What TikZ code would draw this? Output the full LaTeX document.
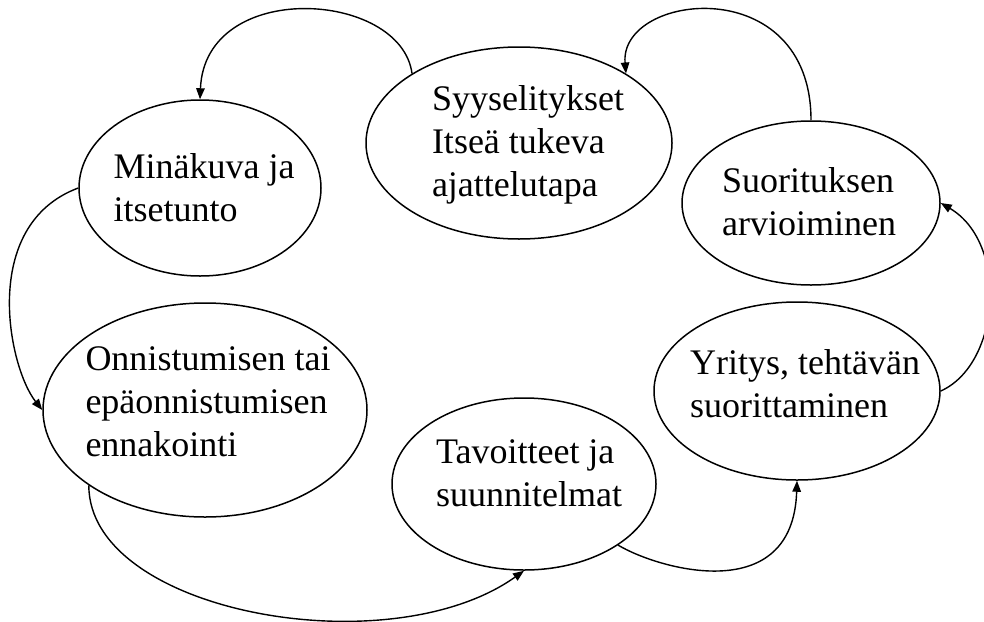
\documentclass[tikz,border=0pt]{standalone}
\usepackage{fontspec}
\setmainfont{Liberation Serif}
\usetikzlibrary{shapes.geometric,arrows.meta}
\begin{document}
\begin{tikzpicture}[x=1pt,y=-1pt,
  bubble/.style={draw, ellipse, line width=1.5pt, inner sep=0pt},
  txt/.style={align=left, inner sep=0pt, font=\fontsize{36}{43}\selectfont},
  conn/.style={line width=1.4pt, -{Triangle[length=11pt,width=8.5pt]}}]
\useasboundingbox (0,0) rectangle (984,621);
% ellipses
\node[bubble, minimum width=242pt, minimum height=176pt] (m) at (200,188) {};
\node[bubble, minimum width=306pt, minimum height=192pt] (s) at (519,143) {};
\node[bubble, minimum width=258pt, minimum height=164pt] (r) at (811,203) {};
\node[bubble, minimum width=324pt, minimum height=214pt] (o) at (205,410) {};
\node[bubble, minimum width=264pt, minimum height=172pt] (t) at (524,484) {};
\node[bubble, minimum width=286pt, minimum height=178pt] (y) at (797,391) {};
% texts
\node[txt] (mt) at (204,187.7) {Minäkuva ja\\itsetunto};
\node[txt] (st) at (528,145.1) {Syyselitykset\\Itseä tukeva\\ajattelutapa};
\node[txt] (rt) at (809,201.7) {Suorituksen\\arvioiminen};
\node[txt] (ot) at (208,401.7) {Onnistumisen tai\\epäonnistumisen\\ennakointi};
\node[txt] (tt) at (529,473.7) {Tavoitteet ja\\suunnitelmat};
\node[txt] (yt) at (805,383.2) {Yritys, tehtävän\\suorittaminen};
% connectors
\draw[conn] (s.147) .. controls +(-11,-83) and +(5,-121) .. (m.north);
\draw[conn] (r.north) .. controls +(0,-150) and +(-7,-81) .. (s.33);
\draw[conn] (m.west) .. controls +(-99,37) and +(-34,-43) .. (o.west);
\draw[conn] (o.213) .. controls +(0,127) and +(-135,96) .. (t.south);
\draw[conn] (t.327) .. controls +(40,24) and +(-4,127) .. (y.south);
\draw[conn] (y.east) .. controls +(60,-27) and +(68,40) .. (r.east);
\end{tikzpicture}
\end{document}
